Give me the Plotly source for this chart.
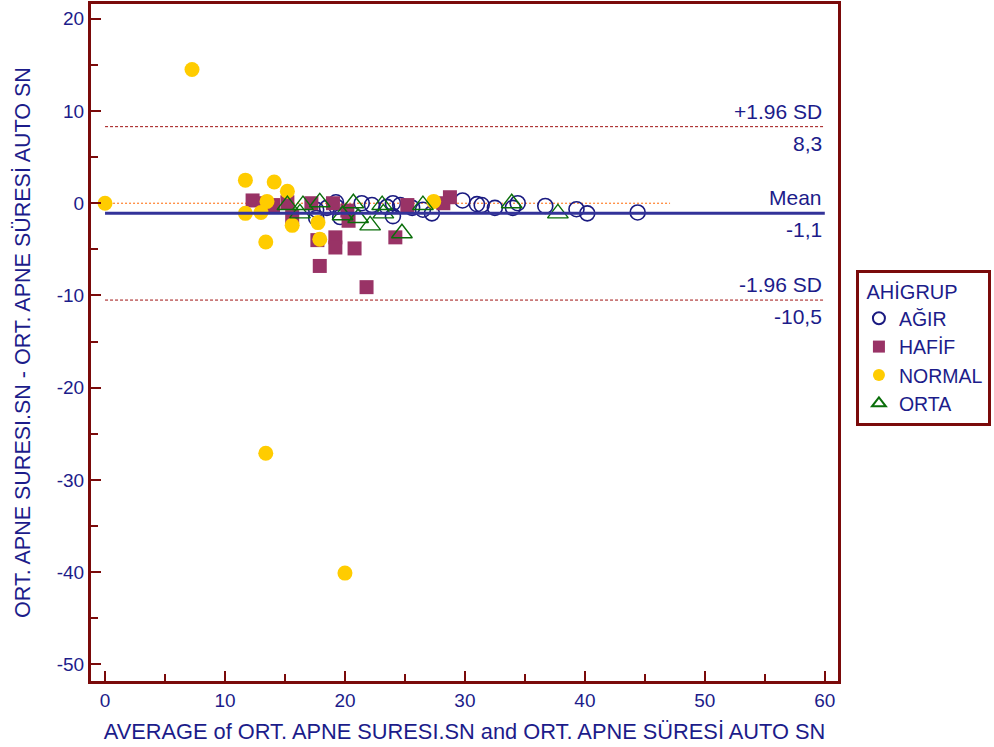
import plotly.graph_objects as go

# ---- data ----
normal_x = [0.0, 7.25, 11.7, 14.1, 15.2, 11.7, 13.5, 13.0, 13.4, 15.6, 13.4, 20.0, 17.75, 17.9, 27.4]
normal_y = [0.0, 14.5, 2.5, 2.3, 1.3, -1.1, 0.2, -1.0, -4.2, -2.4, -27.1, -40.1, -2.1, -3.9, 0.2]

hafif_x = [12.3, 13.2, 14.0, 15.2, 15.6, 17.2, 19.0, 20.2, 17.7, 19.2, 19.2, 17.9, 20.8, 21.8, 24.2, 28.75, 28.2, 25.2, 20.3]
hafif_y = [0.3, 0.0, -0.2, 0.1, -1.5, 0.0, 0.0, -0.8, -4.0, -3.7, -4.8, -6.8, -4.9, -9.1, -3.7, 0.65, 0.0, -0.2, -1.9]

agir_x = [17.6, 17.6, 18.5, 19.25, 19.3, 19.6, 21.4, 22.25, 23.5, 24.0, 24.6, 24.0, 25.6, 26.5, 27.25, 29.8, 31.0, 31.4, 32.5, 34.0, 34.4, 36.7, 39.3, 40.2, 44.4]
agir_y = [-0.7, -1.6, -0.5, 0.1, -0.4, -1.5, 0.0, -0.2, -0.4, 0.0, -0.2, -1.4, -0.5, -0.7, -1.1, 0.3, -0.1, -0.2, -0.5, -0.5, 0.0, -0.3, -0.65, -1.1, -1.0]

orta_x = [15.2, 16.5, 17.9, 16.25, 19.8, 20.7, 21.1, 22.1, 23.1, 23.2, 24.75, 26.5, 33.9, 37.75]
orta_y = [-0.2, -0.2, 0.1, -1.1, -1.3, 0.0, -1.6, -2.4, -0.2, -1.1, -3.25, -0.2, 0.0, -1.1]

mean_diff = -1.1
upper_loa = 8.3
lower_loa = -10.5
x_ticks = [0, 10, 20, 30, 40, 50, 60]
y_ticks = [20, 10, 0, -10, -20, -30, -40, -50]

NAVY = "#1c1c8a"
FRAME = "#7a0a0a"
FONT = "Liberation Sans, Arial, sans-serif"

fig = go.Figure()

fig.add_trace(go.Scatter(x=agir_x, y=agir_y, mode="markers", name="AĞIR", legendrank=1,
                         marker=dict(symbol="circle-open", size=15, color="#1a1a80", line=dict(width=1.6))))
fig.add_trace(go.Scatter(x=hafif_x, y=hafif_y, mode="markers", name="HAFİF", legendrank=2,
                         marker=dict(symbol="square", size=14, color="#993366")))
fig.add_trace(go.Scatter(x=normal_x, y=normal_y, mode="markers", name="NORMAL", legendrank=3,
                         marker=dict(symbol="circle", size=15, color="#ffcc00")))
fig.add_trace(go.Scatter(x=orta_x, y=orta_y, mode="markers", name="ORTA", legendrank=4,
                         marker=dict(symbol="triangle-up-open", size=18, color="#0a6e0a", line=dict(width=1.4))))

# reference lines
fig.add_shape(type="line", x0=0, x1=60, y0=upper_loa, y1=upper_loa, xref="x", yref="y",
              line=dict(color="#a01010", width=1, dash="3px,2px"), layer="below")
fig.add_shape(type="line", x0=0, x1=60, y0=lower_loa, y1=lower_loa, xref="x", yref="y",
              line=dict(color="#a01010", width=1, dash="3px,2px"), layer="below")
fig.add_shape(type="line", x0=0, x1=47.1, y0=0, y1=0, xref="x", yref="y",
              line=dict(color="#ff6600", width=1, dash="2px,2px"), layer="below")
fig.add_shape(type="line", x0=0, x1=60, y0=mean_diff, y1=mean_diff, xref="x", yref="y",
              line=dict(color="#333399", width=3), layer="above")

def lab(text, y, above):
    fig.add_annotation(x=59.95, y=y, xref="x", yref="y", text=text, showarrow=False,
                       xanchor="right", yanchor="bottom" if above else "top",
                       yshift=2 if above else -3,
                       font=dict(family=FONT, size=21, color=NAVY))

lab("+1.96 SD", upper_loa, True)
lab(f"{upper_loa:.1f}".replace(".", ","), upper_loa, False)
lab("Mean", mean_diff, True)
lab(f"{mean_diff:.1f}".replace(".", ","), mean_diff, False)
lab("-1.96 SD", lower_loa, True)
lab(f"{lower_loa:.1f}".replace(".", ","), lower_loa, False)

axis_common = dict(showline=True, linecolor=FRAME, linewidth=3, mirror=True,
                   ticks="inside", tickcolor=FRAME, tickwidth=2, ticklen=10,
                   showgrid=False, zeroline=False, automargin=False,
                   tickfont=dict(family=FONT, size=19, color=NAVY),
                   minor=dict(ticks="inside", ticklen=7, tickcolor=FRAME, tickwidth=2))

fig.update_xaxes(range=[-1.17, 61.1], tickvals=x_ticks, ticktext=[str(v) for v in x_ticks],
                 minor_dtick=5, minor_tick0=0,
                 title=dict(text="AVERAGE of ORT. APNE SURESI.SN and ORT. APNE SÜRESİ AUTO SN",
                            font=dict(family=FONT, size=21.8, color=NAVY), standoff=14),
                 **axis_common)
fig.update_yaxes(range=[-51.8, 21.6], tickvals=y_ticks, ticktext=[str(v) for v in y_ticks],
                 minor_dtick=5, minor_tick0=0,
                 title=dict(text="ORT. APNE SURESI.SN - ORT. APNE SÜRESİ AUTO SN",
                            font=dict(family=FONT, size=21.5, color=NAVY), standoff=21),
                 **axis_common)

fig.update_layout(
    width=994, height=747,
    margin=dict(l=91, r=156, t=4, b=66, autoexpand=False),
    plot_bgcolor="white", paper_bgcolor="white",
    legend=dict(title=dict(text="&nbsp;AHİGRUP", font=dict(family=FONT, size=20, color=NAVY)),
                font=dict(family=FONT, size=19.5, color=NAVY),
                x=1.024, y=0.607, xanchor="left", yanchor="top",
                bordercolor=FRAME, borderwidth=3, bgcolor="white",
                tracegroupgap=0, itemsizing="constant"),
    showlegend=True,
)

fig.write_html("out.html", config={"displayModeBar": False},
               post_script="document.body.style.margin='0';document.body.style.overflow='hidden';")
